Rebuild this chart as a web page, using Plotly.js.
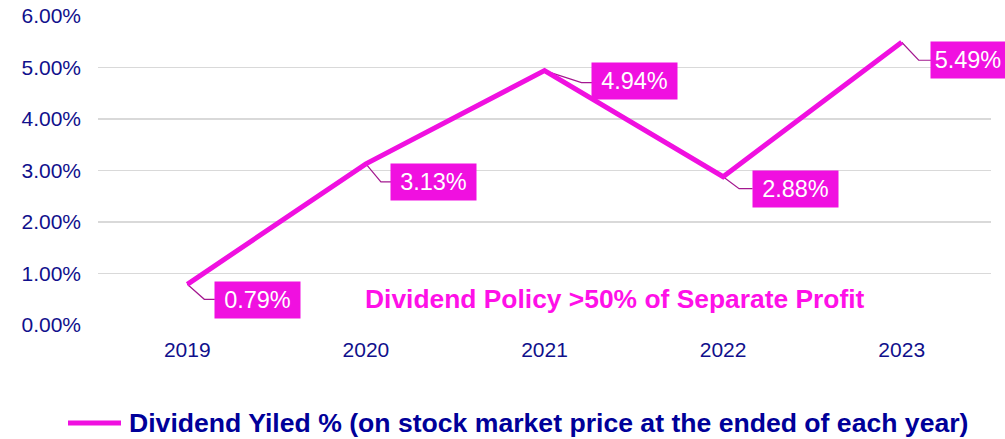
<!DOCTYPE html>
<html>
<head>
<meta charset="utf-8">
<script src="https://cdn.plot.ly/plotly-3.0.1.min.js"></script>
<style>html,body{margin:0;padding:0;background:#fff;}#chart{width:1005px;height:439px;}</style>
</head>
<body>
<div id="chart"></div>
<script>
var years = ['2019', '2020', '2021', '2022', '2023'];
var dividendYield = [0.0079, 0.0313, 0.0494, 0.0288, 0.0549];
var yTickValues = [0, 0.01, 0.02, 0.03, 0.04, 0.05, 0.06];
var seriesName = 'Dividend Yiled % (on stock market price at the ended of each year)';
var policyNote = 'Dividend Policy >50% of Separate Profit';

// label box offsets (pixels from the point, y down), box widths and leader elbows
var labelShift = [[70, 16], [68, 18], [90, 10], [72, 12], [66.5, 18]];
var labelBoxWidth = [85, 85, 85, 85, 74];
var leaderElbow = [[17, 15], [15, 18], [37, 12], [16, 12], [17, 18]];

var MAG = '#F010E0';
var NAVY = '#10108C';
var FONT = 'Arial, "Liberation Sans", sans-serif';

var W = 1005, H = 439;
var M = {l: 98, r: 14, t: 16, b: 114};
var plotW = W - M.l - M.r, plotH = H - M.t - M.b;
var xRange = [-0.5, 4.5], yRange = [0, 0.06];
var pxPerX = plotW / (xRange[1] - xRange[0]);
var pxPerY = plotH / (yRange[1] - yRange[0]);

var xIdx = years.map(function (_, i) { return i; });

var annotations = [];
var leadX = [], leadY = [];
for (var i = 0; i < years.length; i++) {
  var sx = labelShift[i][0], sy = labelShift[i][1];
  annotations.push({
    x: xIdx[i], y: dividendYield[i], xref: 'x', yref: 'y',
    text: (dividendYield[i] * 100).toFixed(2) + '%',
    showarrow: false, xshift: sx, yshift: -sy,
    bgcolor: MAG, borderpad: 0, width: labelBoxWidth[i], height: 36,
    font: {family: FONT, size: 23.5, color: '#ffffff'}
  });
  var ex = leaderElbow[i][0], ey = leaderElbow[i][1];
  var boxLeft = sx - labelBoxWidth[i] / 2;
  leadX.push(xIdx[i], xIdx[i] + ex / pxPerX, xIdx[i] + boxLeft / pxPerX, null);
  leadY.push(dividendYield[i], dividendYield[i] - ey / pxPerY, dividendYield[i] - ey / pxPerY, null);
}
annotations.push({
  x: (615 - M.l) / plotW, y: (M.t + plotH - 299) / plotH, xref: 'paper', yref: 'paper',
  xanchor: 'center', yanchor: 'middle',
  text: '<b>' + policyNote + '</b>', showarrow: false,
  font: {family: FONT, size: 26.4, color: '#FF10E8'}
});
// legend (drawn manually so it sits exactly where the reference puts it)
annotations.push({
  x: (127 - M.l) / plotW, y: (M.t + plotH - 423) / plotH, xref: 'paper', yref: 'paper',
  xanchor: 'left', yanchor: 'middle',
  text: '<b>' + seriesName + '</b>', showarrow: false,
  font: {family: FONT, size: 26.6, color: '#000099'}
});
var shapes = [{
  type: 'line', xref: 'paper', yref: 'paper',
  x0: (68 - M.l) / plotW, x1: (121 - M.l) / plotW,
  y0: (M.t + plotH - 423) / plotH, y1: (M.t + plotH - 423) / plotH,
  line: {color: MAG, width: 5}
}];

var leaders = {
  x: leadX, y: leadY, type: 'scatter', mode: 'lines', hoverinfo: 'skip',
  showlegend: false, line: {color: '#A3188F', width: 1.2}
};
var trace = {
  x: xIdx, y: dividendYield, type: 'scatter', mode: 'lines',
  name: seriesName, showlegend: false,
  line: {color: MAG, width: 5}
};

var layout = {
  width: W, height: H, margin: M,
  paper_bgcolor: '#ffffff', plot_bgcolor: '#ffffff',
  showlegend: false,
  xaxis: {
    range: xRange, tickvals: xIdx, ticktext: years,
    showgrid: false, zeroline: false, showline: false, ticks: '',
    tickfont: {family: FONT, size: 21, color: NAVY},
    ticklabelstandoff: 10
  },
  yaxis: {
    range: yRange, tickvals: yTickValues, tickformat: '.2%',
    showgrid: true, gridcolor: '#D9D9D9', gridwidth: 1.5,
    zeroline: false, showline: false, ticks: '',
    tickfont: {family: FONT, size: 21, color: NAVY},
    ticklabelstandoff: 16
  },
  annotations: annotations,
  shapes: shapes
};

Plotly.newPlot('chart', [leaders, trace], layout, {displayModeBar: false, staticPlot: true});
</script>
</body>
</html>
